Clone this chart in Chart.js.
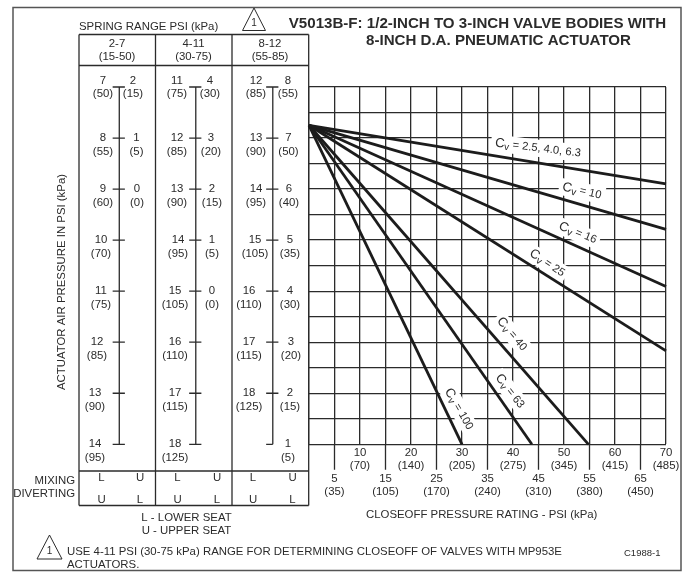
<!DOCTYPE html>
<html>
<head>
<meta charset="utf-8">
<title>V5013B-F closeoff chart</title>
<script src="https://cdn.jsdelivr.net/npm/chart.js@4"></script>
<style>
  html, body { margin: 0; padding: 0; background: #fff; }
  canvas { display: block; }
</style>
</head>
<body>
<canvas id="closeoffChart" width="684" height="572"></canvas>
<script>
// closeoff axis
const closeoffPsi = [5, 10, 15, 20, 25, 30, 35, 40, 45, 50, 55, 60, 65, 70];
const closeoffKpa = [35, 70, 105, 140, 170, 205, 240, 275, 310, 345, 380, 415, 450, 485];

// actuator pressure rows, using the 2-7 column as the y axis
const pressureRows = [7, 8, 9, 10, 11, 12, 13, 14];

// spring range columns
const rangePsi = ["2-7", "4-11", "8-12"];
const rangeKpa = ["(15-50)", "(30-75)", "(55-85)"];
const leftPsi = [
    [7, 8, 9, 10, 11, 12, 13, 14],
    [11, 12, 13, 14, 15, 16, 17, 18],
    [12, 13, 14, 15, 16, 17, 18],
];
const leftKpa = [
    [50, 55, 60, 70, 75, 85, 90, 95],
    [75, 85, 90, 95, 105, 110, 115, 125],
    [85, 90, 95, 105, 110, 115, 125],
];
const rightPsi = [
    [2, 1, 0],
    [4, 3, 2, 1, 0],
    [8, 7, 6, 5, 4, 3, 2, 1],
];
const rightKpa = [
    [15, 5, 0],
    [30, 20, 15, 5, 0],
    [55, 50, 40, 35, 30, 20, 15, 5],
];
const mixingSeats = ["L", "U", "L", "U", "L", "U"];
const divertingSeats = ["U", "L", "U", "L", "U", "L"];

// Cv lines: all start at the same point, then [closeoff, pressure] at the far end
const cvNames = ["2.5, 4.0, 6.3", "10", "16", "25", "40", "63", "100"];
const startCloseoff = 0;
const startPressure = 7.75;
const endCloseoff = [70, 70, 70, 70, 54.8, 43.7, 30];
const endPressure = [8.9, 9.79, 10.91, 12.17, 14, 14, 14];

// layout of the drawing around the data
const ink = "#2b2b2b";
const fontName = '"Liberation Sans", Arial, sans-serif';
const baseFont = "11.4px " + fontName;
const ladderX = [-37.2, -22.2, -7.1];
const leftTextX = [
    [103, 103, 103, 101, 101, 97, 95, 95],
    [177, 177, 177, 178, 175, 175, 175, 175],
    [256, 256, 256, 255, 249, 249, 249],
];
const rightTextX = [
    [133, 136.5, 137],
    [210, 211, 212, 212, 212],
    [288, 288.5, 289, 290, 290, 291, 290, 288],
];
const seatTextX = [101.5, 140, 177.5, 217, 253, 292.5];
const cvLabelSpots = [
    { x: 44.9, y: 8.2, angle: 7 },
    { x: 53.5, y: 9.04, angle: 13 },
    { x: 52.7, y: 9.86, angle: 22 },
    { x: 46.7, y: 10.45, angle: 34 },
    { x: 39.8, y: 11.84, angle: 50 },
    { x: 39.4, y: 12.96, angle: 52 },
    { x: 29.4, y: 13.31, angle: 60 },
];

function ladderPath(col) {
    const x = ladderX[col];
    const lastRow = pressureRows[pressureRows.length - 1];
    const pts = [{ x: x, y: pressureRows[0] }, { x: x, y: lastRow }, { x: x, y: null }];
    pressureRows.forEach((row, i) => {
        // the last row of the 8-12 column only has a tick on the left
        const right = col === 2 && i === pressureRows.length - 1 ? 0 : 1.1;
        pts.push({ x: x - 1.3, y: row }, { x: x + right, y: row }, { x: x, y: null });
    });
    return pts;
}

function extendedTicks() {
    const pts = [];
    closeoffPsi.forEach((psi, i) => {
        if (i % 2 === 0) {
            pts.push({ x: psi, y: 14 }, { x: psi, y: 14.5 }, { x: psi, y: null });
        }
    });
    return pts;
}

function text(ctx, str, x, y, align, font) {
    ctx.font = font || baseFont;
    ctx.textAlign = align || "center";
    ctx.textBaseline = "middle";
    ctx.fillText(str, x, y);
}

function line(ctx, x1, y1, x2, y2, width, color) {
    ctx.lineWidth = width || 1.3;
    ctx.strokeStyle = color || ink;
    ctx.beginPath();
    ctx.moveTo(x1, y1);
    ctx.lineTo(x2, y2);
    ctx.stroke();
}

function triangle(ctx, apexX, apexY, baseY, halfWidth) {
    ctx.lineWidth = 1;
    ctx.strokeStyle = ink;
    ctx.beginPath();
    ctx.moveTo(apexX, apexY);
    ctx.lineTo(apexX - halfWidth, baseY);
    ctx.lineTo(apexX + halfWidth, baseY);
    ctx.closePath();
    ctx.stroke();
    text(ctx, "1", apexX, baseY - 7.5, "center", "10px " + fontName);
}

const tablePlugin = {
    id: "tablePlugin",
    beforeDraw(chart) {
        const ctx = chart.ctx;
        ctx.save();
        ctx.fillStyle = "#fff";
        ctx.fillRect(0, 0, chart.width, chart.height);

        // page frame
        ctx.lineWidth = 1.5;
        ctx.strokeStyle = "#555";
        ctx.strokeRect(13, 7.5, 668, 563);

        // table borders
        [79, 155.5, 232, 308.7].forEach((x) => line(ctx, x, 34.5, x, 505.5));
        [34.5, 65.5, 471, 505.5].forEach((y) => line(ctx, 79, y, 308.7, y));

        ctx.fillStyle = ink;
        text(ctx, "V5013B-F: 1/2-INCH TO 3-INCH VALVE BODIES WITH", 477.5, 23.5, "center", "bold 15.1px " + fontName);
        text(ctx, "8-INCH D.A. PNEUMATIC ACTUATOR", 498.5, 40.5, "center", "bold 15.1px " + fontName);
        text(ctx, "SPRING RANGE PSI (kPa)", 79, 26.5, "left");
        triangle(ctx, 254, 8, 30.5, 11.5);

        [117, 193.5, 270].forEach((x, i) => {
            text(ctx, rangePsi[i], x, 43.5);
            text(ctx, rangeKpa[i], x, 56.5);
        });

        ctx.save();
        ctx.translate(62, 282);
        ctx.rotate(-Math.PI / 2);
        text(ctx, "ACTUATOR AIR PRESSURE IN PSI (kPa)", 0, 0);
        ctx.restore();

        text(ctx, "CLOSEOFF PRESSURE RATING - PSI (kPa)", 481.7, 515);
        text(ctx, "MIXING", 75, 481, "right");
        text(ctx, "DIVERTING", 75, 494, "right");
        seatTextX.forEach((x, i) => {
            text(ctx, mixingSeats[i], x, 478);
            text(ctx, divertingSeats[i], x, 500);
        });
        text(ctx, "L - LOWER SEAT", 186.5, 517.5);
        text(ctx, "U - UPPER SEAT", 186.5, 531);
        triangle(ctx, 49.5, 535, 559, 12.5);
        text(ctx, "USE 4-11 PSI (30-75 kPa) RANGE FOR DETERMINING CLOSEOFF OF VALVES WITH MP953E", 67, 552, "left");
        text(ctx, "ACTUATORS.", 67, 565, "left");
        text(ctx, "C1988-1", 624, 553, "left", "9.5px " + fontName);
        ctx.restore();
    },
    beforeDatasetsDraw(chart) {
        // white boxes hide the grid behind the Cv labels
        const ctx = chart.ctx;
        ctx.save();
        ctx.font = "11.6px " + fontName;
        cvNames.forEach((name, i) => {
            const spot = cvLabelSpots[i];
            const w = ctx.measureText("Cv = " + name).width + 6;
            ctx.save();
            ctx.translate(chart.scales.x.getPixelForValue(spot.x), chart.scales.y.getPixelForValue(spot.y));
            ctx.rotate(spot.angle * Math.PI / 180);
            ctx.fillStyle = "#fff";
            ctx.fillRect(-w / 2, -8.5, w, 17);
            ctx.restore();
        });
        ctx.restore();
    },
    afterDatasetsDraw(chart) {
        const ctx = chart.ctx;
        const y = chart.scales.y;
        ctx.save();
        ctx.fillStyle = ink;

        // ladder labels: the top row sits either side of its tick
        leftPsi.forEach((psis, col) => {
            psis.forEach((psi, i) => {
                const py = y.getPixelForValue(pressureRows[i]);
                const top = i === 0 ? -6 : 0;
                const below = i === 0 ? 7 : 14;
                text(ctx, String(psi), leftTextX[col][i], py + top);
                text(ctx, "(" + leftKpa[col][i] + ")", leftTextX[col][i], py + below);
            });
        });
        rightPsi.forEach((psis, col) => {
            psis.forEach((psi, i) => {
                const py = y.getPixelForValue(pressureRows[i]);
                const top = i === 0 ? -6 : 0;
                const below = i === 0 ? 7 : 14;
                text(ctx, String(psi), rightTextX[col][i], py + top);
                text(ctx, "(" + rightKpa[col][i] + ")", rightTextX[col][i], py + below);
            });
        });

        // Cv labels with the small v
        cvNames.forEach((name, i) => {
            const spot = cvLabelSpots[i];
            const rest = " = " + name;
            ctx.font = "13px " + fontName;
            const cW = ctx.measureText("C").width;
            ctx.font = "11.2px " + fontName;
            const restW = ctx.measureText(rest).width;
            ctx.font = "10px " + fontName;
            const vW = ctx.measureText("v").width;
            let left = -(cW + vW + restW) / 2;
            ctx.save();
            ctx.translate(chart.scales.x.getPixelForValue(spot.x), y.getPixelForValue(spot.y));
            ctx.rotate(spot.angle * Math.PI / 180);
            text(ctx, "C", left, 0, "left", "13px " + fontName);
            left += cW;
            text(ctx, "v", left, 3, "left", "10px " + fontName);
            left += vW;
            text(ctx, rest, left, 0, "left", "11.2px " + fontName);
            ctx.restore();
        });
        ctx.restore();
    },
};

const ctx = document.getElementById("closeoffChart").getContext("2d");

const cvDatasets = cvNames.map((name, i) => ({
    label: "Cv = " + name,
    data: [{ x: startCloseoff, y: startPressure }, { x: endCloseoff[i], y: endPressure[i] }],
    showLine: true,
    borderColor: "#1c1c1c",
    borderWidth: 2.8,
    pointRadius: 0,
    clip: false,
}));

const ladderDatasets = rangePsi.map((name, col) => ({
    label: "Spring range " + name,
    data: ladderPath(col),
    showLine: true,
    borderColor: ink,
    borderWidth: 1.3,
    pointRadius: 0,
    clip: false,
}));

const tickDataset = {
    label: "Closeoff ticks",
    data: extendedTicks(),
    showLine: true,
    borderColor: ink,
    borderWidth: 1.3,
    pointRadius: 0,
    clip: false,
};

new Chart(ctx, {
    type: "scatter",
    data: { datasets: [...ladderDatasets, tickDataset, ...cvDatasets] },
    options: {
        responsive: false,
        animation: false,
        layout: { padding: { left: 309, top: 87, right: 18, bottom: 46.7 } },
        plugins: { legend: { display: false }, tooltip: { enabled: false } },
        scales: {
            x: {
                type: "linear",
                // set here and not as min/max, so the ladders left of 0 are kept
                afterDataLimits: (scale) => { scale.min = 0; scale.max = 70; },
                afterFit: (scale) => { scale.height = 81; },
                border: { display: false },
                grid: { color: ink, lineWidth: 1.3, drawTicks: false },
                ticks: {
                    stepSize: 5,
                    autoSkip: false,
                    maxRotation: 0,
                    padding: 2,
                    color: ink,
                    font: { family: fontName, size: 11.4, lineHeight: 1.15 },
                    callback: (value) => {
                        const i = closeoffPsi.indexOf(value);
                        if (i < 0) return "";
                        const label = [String(closeoffPsi[i]), "(" + closeoffKpa[i] + ")"];
                        return i % 2 === 0 ? ["", "", ...label] : label;
                    },
                },
            },
            y: {
                type: "linear",
                reverse: true,
                min: 7,
                max: 14,
                afterFit: (scale) => { scale.width = 0; },
                border: { display: false },
                grid: { color: ink, lineWidth: 1.3, drawTicks: false },
                ticks: { display: false, stepSize: 0.5 },
            },
        },
    },
    plugins: [tablePlugin],
});
</script>
</body>
</html>
